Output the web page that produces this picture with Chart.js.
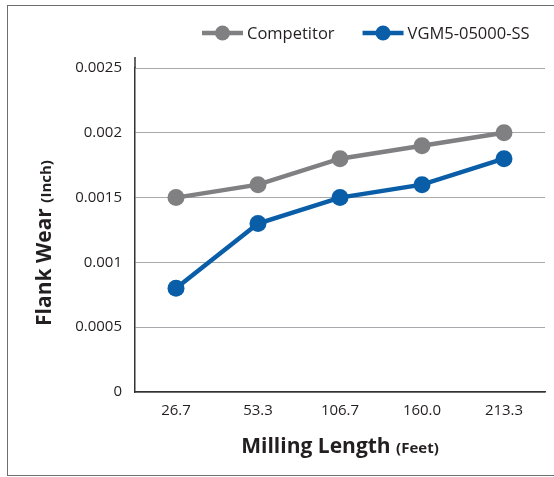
<!DOCTYPE html>
<html>
<head>
<meta charset="utf-8">
<script src="https://cdn.jsdelivr.net/npm/chart.js@4.4.1/dist/chart.umd.min.js"></script>
<style>
  html, body { margin: 0; padding: 0; background: #fff; }
  #frame { position: absolute; left: 7px; top: 5px; width: 560px; height: 469px; border: 1px solid #6d6e71; }
  #chart { position: absolute; left: 0; top: 0; }
</style>
</head>
<body>
<div id="frame"></div>
<canvas id="chart" width="554" height="477"></canvas>
<script>
const lengths = ['26.7', '53.3', '106.7', '160.0', '213.3'];
const competitor = [0.0015, 0.0016, 0.0018, 0.0019, 0.002];
const vgm = [0.0008, 0.0013, 0.0015, 0.0016, 0.0018];
const seriesNames = ['Competitor', 'VGM5-05000-SS'];
const seriesColors = ['#808083', '#0a5ea8'];
const yMax = 0.0025;
const yStep = 0.0005;

const FONT = '"Open Sans", "Noto Sans", sans-serif';
const TEXT = '#231f20';

// draws "Big text (small)" centred on 0,0 of the current transform
function mixedTitle(ctx, big, small) {
  ctx.font = 'bold 21px ' + FONT;
  const w1 = ctx.measureText(big + ' ').width;
  ctx.font = 'bold 15px ' + FONT;
  const w2 = ctx.measureText(small).width;
  let x = -(w1 + w2) / 2;
  ctx.textBaseline = 'alphabetic';
  ctx.textAlign = 'left';
  ctx.fillStyle = TEXT;
  ctx.font = 'bold 21px ' + FONT;
  ctx.fillText(big + ' ', x, 7);
  ctx.font = 'bold 15px ' + FONT;
  ctx.fillText(small, x + w1, 7);
}

const extras = {
  id: 'extras',
  afterDraw(chart) {
    const ctx = chart.ctx;
    const area = chart.chartArea;
    ctx.save();

    // y axis line runs a bit above the top gridline
    ctx.strokeStyle = '#333';
    ctx.lineWidth = 1.5;
    ctx.beginPath();
    ctx.moveTo(area.left, area.top - 11);
    ctx.lineTo(area.left, area.top);
    ctx.stroke();

    // legend
    let x = 202;
    const y = 33;
    chart.data.datasets.forEach(ds => {
      ctx.strokeStyle = ds.borderColor;
      ctx.fillStyle = ds.borderColor;
      ctx.lineWidth = 4.5;
      ctx.beginPath();
      ctx.moveTo(x, y);
      ctx.lineTo(x + 41, y);
      ctx.stroke();
      ctx.beginPath();
      ctx.arc(x + 20.5, y, 7.5, 0, Math.PI * 2);
      ctx.fill();
      ctx.font = '16.5px ' + FONT;
      ctx.fillStyle = TEXT;
      ctx.textBaseline = 'middle';
      ctx.textAlign = 'left';
      ctx.fillText(ds.label, x + 45, y + 1);
      x += 45 + ctx.measureText(ds.label).width + 28;
    });

    // axis titles
    ctx.save();
    ctx.translate(340, 446);
    mixedTitle(ctx, 'Milling Length', '(Feet)');
    ctx.restore();
    ctx.save();
    ctx.translate(44, 243);
    ctx.rotate(-Math.PI / 2);
    mixedTitle(ctx, 'Flank Wear', '(Inch)');
    ctx.restore();

    ctx.restore();
  }
};

new Chart(document.getElementById('chart'), {
  type: 'line',
  data: {
    labels: lengths,
    datasets: [
      { label: seriesNames[0], data: competitor, borderColor: seriesColors[0], backgroundColor: seriesColors[0] },
      { label: seriesNames[1], data: vgm, borderColor: seriesColors[1], backgroundColor: seriesColors[1] }
    ]
  },
  options: {
    responsive: false,
    animation: false,
    layout: { padding: { top: 68, right: 9, left: 0, bottom: 0 } },
    elements: {
      line: { borderWidth: 4.5, tension: 0 },
      point: { radius: 8.5, borderWidth: 0, hoverRadius: 8.5 }
    },
    plugins: {
      legend: { display: false },
      tooltip: { enabled: false }
    },
    scales: {
      x: {
        offset: true,
        grid: { display: false, drawTicks: false },
        border: { color: '#333', width: 1.5 },
        ticks: { color: TEXT, font: { family: FONT, size: 15 }, padding: 10, maxRotation: 0 },
        afterFit: s => { s.height = 85; }
      },
      y: {
        min: 0,
        max: yMax,
        grid: { color: '#a7a9ac', lineWidth: 1, drawTicks: false },
        border: { color: '#333', width: 1.5 },
        ticks: {
          stepSize: yStep,
          color: TEXT,
          font: { family: FONT, size: 15 },
          padding: 13,
          callback: v => String(+v.toFixed(4))
        },
        afterFit: s => { s.width = 135; }
      }
    }
  },
  plugins: [extras]
});
</script>
</body>
</html>
